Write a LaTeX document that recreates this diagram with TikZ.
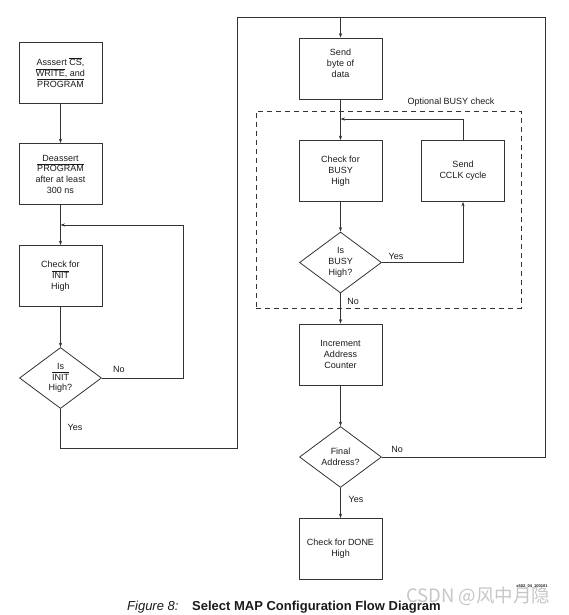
\documentclass[tikz,border=0pt]{standalone}
\usepackage{fontspec}
\setmainfont{Liberation Sans}
\newfontfamily\cjkfont{Noto Sans CJK SC}
\usetikzlibrary{shapes.geometric,arrows.meta}
\definecolor{ln}{HTML}{333333}
\definecolor{tx}{HTML}{1A1A1A}
\newcommand{\ovl}[1]{$\overline{\mbox{#1}}$}
\begin{document}
\begin{tikzpicture}[x=1pt,y=-1pt,
  font=\fontsize{9}{10.7}\selectfont,
  box/.style={draw=ln, line width=0.8pt, minimum width=83pt, minimum height=61pt, align=center, inner sep=0pt, text=tx},
  dec/.style={draw=ln, line width=0.8pt, diamond, aspect=1.344, minimum width=82pt, minimum height=61pt, align=center, inner sep=0pt, text=tx},
  conn/.style={draw=ln, line width=0.8pt},
  arr/.style={conn, -{Stealth[length=4.5pt,width=3.2pt]}},
  lbl/.style={text=tx, inner sep=0pt}]
\useasboundingbox (0,0) rectangle (569,615);

% left column
\node[box] (b1) at (60.5,72.5) {Asssert \ovl{CS},\\\ovl{WRITE}, and\\\ovl{PROGRAM}};
\node[box] (b2) at (60.5,174) {Deassert\\\ovl{PROGRAM}\\after at least\\300 ns};
\node[box] (b3) at (60.5,276) {Check for\\\ovl{INIT}\\High};
\node[dec] (d1) at (60.5,378) {Is\\\ovl{INIT}\\High?};

% right column
\node[box] (s1) at (340.5,68.5) {Send\\byte of\\data\\\mbox{}};
\node[draw=ln, dash pattern=on 5pt off 4pt, line width=0.8pt, minimum width=265pt, minimum height=197pt, inner sep=0pt] (opt) at (388.5,209.5) {};
\node[lbl] (optlbl) at (451,102) {Optional BUSY check};
\node[box] (busy) at (340.5,171) {Check for\\BUSY\\High};
\node[box] (cclk) at (463,171) {Send\\CCLK cycle};
\node[dec] (d2) at (340.5,262.5) {Is\\BUSY\\High?};
\node[box] (inc) at (340.5,354.5) {Increment\\Address\\Counter};
\node[dec] (d3) at (340.5,457) {Final\\Address?};
\node[box] (done) at (340.5,549) {Check for DONE\\High};

% routing points
\coordinate (initret) at (60.5,225);
\coordinate (c1) at (183,378);
\coordinate (c2) at (237,448);
\coordinate (c3) at (237,17);
\coordinate (c4) at (545,17);
\coordinate (busyret) at (340.5,119);

% connectors
\draw[arr] (b1.south) -- (b2.north);
\draw[arr] (b2.south) -- (b3.north);
\draw[arr] (b3.south) -- (d1.north);
\draw[arr] (d1.east) -- (c1) |- (initret);
\draw[conn] (d1.south) |- (c2) -- (c3);
\draw[arr] (c3) -| (s1.north);
\draw[arr] (s1.south) -- (busy.north);
\draw[arr] (busy.south) -- (d2.north);
\draw[arr] (d2.east) -| (cclk.south);
\draw[arr] (cclk.north) |- (busyret);
\draw[arr] (d2.south) -- (inc.north);
\draw[arr] (inc.south) -- (d3.north);
\draw[conn] (d3.east) -| (c4) -- (c3);
\draw[arr] (d3.south) -- (done.north);

% labels
\node[lbl] (no1) at (119,369) {No};
\node[lbl] (yes1) at (75,427) {Yes};
\node[lbl] (yes2) at (396,256) {Yes};
\node[lbl] (no2) at (353,301) {No};
\node[lbl] (no3) at (397,449) {No};
\node[lbl] (yes3) at (356,499) {Yes};

% id, caption, watermark
\node[lbl, text=gray!45, anchor=base west, font=\cjkfont\fontsize{18.5}{20}\selectfont] (wm) at (406,602) {CSDN @风中月隐};
\node[lbl, font=\fontsize{4}{4}\selectfont\bfseries] (fid) at (532,586) {x502\_04\_100101};
\node[lbl, anchor=base west, font=\fontsize{13}{15}\selectfont\itshape] (figno) at (127,610) {Figure 8:};
\node[lbl, anchor=base west, font=\fontsize{13}{15}\selectfont\bfseries] (cap) at (192,610) {Select MAP Configuration Flow Diagram};
\end{tikzpicture}
\end{document}
